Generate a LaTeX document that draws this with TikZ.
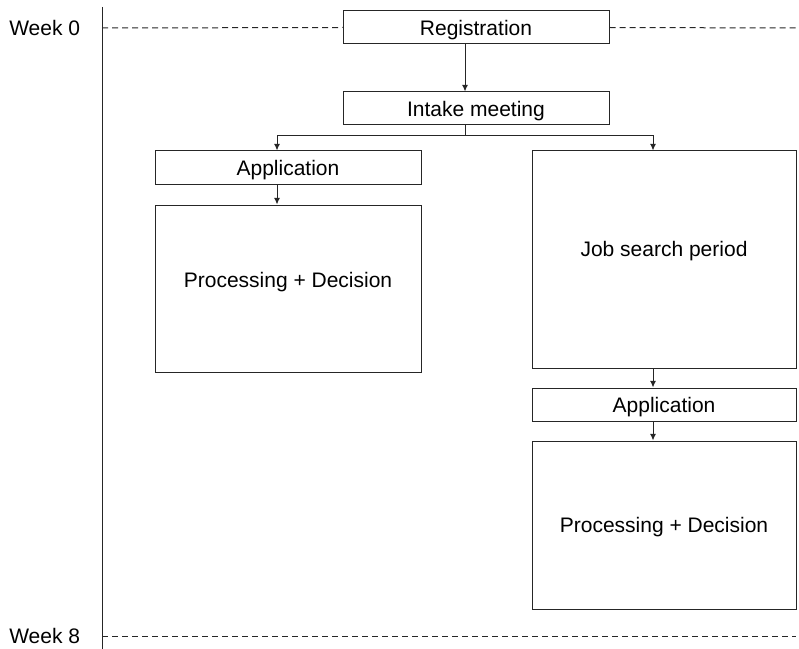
\documentclass[tikz,border=0pt]{standalone}
\usepackage{fontspec}
\setmainfont{Liberation Sans}
\usepackage{tikz}
\usetikzlibrary{arrows.meta,positioning}
\tikzstyle{box} = [draw=black!85, line width=0.75pt, inner sep=0pt, text centered,
  text height=11.3pt, text depth=0pt, font=\fontsize{15.75}{19}\selectfont]
\tikzset{
  line/.style ={draw=black!85, line width=0.75pt, -{Latex[length=5pt,width=4.5pt]}, shorten >=0pt},
  week/.style ={anchor=west, inner sep=0pt, font=\fontsize{15.75}{19}\selectfont},
  grid/.style ={draw=black!85, line width=0.75pt, dash pattern=on 4.5pt off 3pt}
}

\begin{document}
\begin{tikzpicture}[x=0.75pt,y=-0.75pt]
  \useasboundingbox (0,0) rectangle (799,649);

  \node[box,minimum width=199.5pt,minimum height=24.75pt] (reg) at (476,27.5) {Registration};
  \node[box,minimum width=199.5pt,minimum height=24.75pt] (intake) at (476,108.5) {Intake meeting};
  \node[box,minimum width=199.5pt,minimum height=24.75pt] (appl) at (288,167.5) {Application};
  \node[box,minimum width=199.5pt,minimum height=125.25pt,text depth=12.8pt] (procl) at (288,288.5) {Processing + Decision};
  \node[box,minimum width=198pt,minimum height=162.75pt,text depth=16.5pt] (job) at (664,259.5) {Job search period};
  \node[box,minimum width=198pt,minimum height=24.75pt] (appr) at (664,404.5) {Application};
  \node[box,minimum width=198pt,minimum height=126pt] (procr) at (664,525) {Processing + Decision};

  % time axis
  \node[week] (w0) at (9,28) {Week 0};
  \node[week] (w8) at (9,636) {Week 8};
  \coordinate (top) at (102,7);
  \coordinate (bot) at (102,649);
  \coordinate (w0start) at (102,28);
  \coordinate (w0end) at (796,28);
  \coordinate (w8start) at (102,636);
  \coordinate (w8end) at (796,636);
  \draw[black!85, line width=0.75pt] (top) -- (bot);
  \path[grid] (w0start) -- (reg.west);
  \path[grid] (reg.east) -- (w0end);
  \path[grid] (w8start) -- (w8end);

  \begin{scope}[every path/.style=line]
    \path ([xshift=-8.25pt]reg.south) -- ([xshift=-8.25pt]intake.north);
    \path[-] ([xshift=-8.25pt]intake.south) -- ++(0,10) coordinate (split);
    \path (split) -| ([xshift=-8.25pt]appl.north);
    \path (split) -| ([xshift=-8.25pt]job.north);
    \path ([xshift=-8.25pt]appl.south) -- ([xshift=-8.25pt]procl.north);
    \path ([xshift=-8.25pt]job.south) -- ([xshift=-8.25pt]appr.north);
    \path ([xshift=-8.25pt]appr.south) -- ([xshift=-8.25pt]procr.north);
  \end{scope}

\end{tikzpicture}
\end{document}
